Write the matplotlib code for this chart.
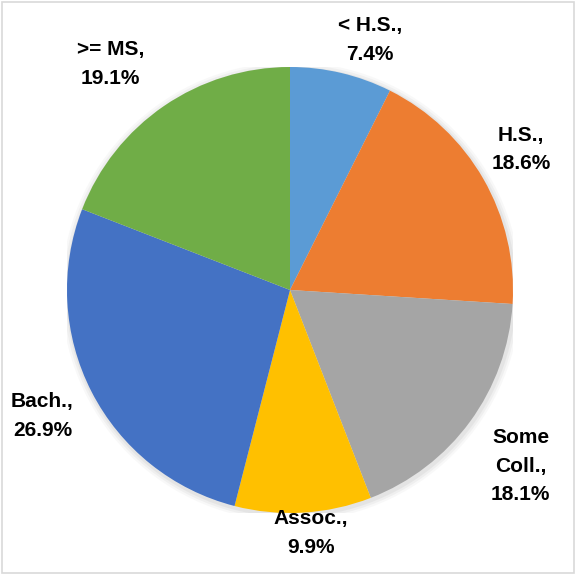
import matplotlib.pyplot as plt
from matplotlib.patches import Rectangle, Circle

# data
categories = ['< H.S.', 'H.S.', 'Some\nColl.', 'Assoc.', 'Bach.', '>= MS']
shares = [7.4, 18.6, 18.1, 9.9, 26.9, 19.1]
colors = ['#5B9BD5', '#ED7D31', '#A5A5A5', '#FFC000', '#4472C4', '#70AD47']

# label placement (axes data coords, pie radius = 1)
label_pos = [(0.36, 1.12), (1.035, 0.63), (1.035, -0.79), (0.095, -1.09), (-1.11, -0.565), (-0.805, 1.015)]

plt.rcParams['font.family'] = ['Liberation Sans', 'DejaVu Sans']

fig = plt.figure(figsize=(5.76, 5.75), dpi=100)
ax = fig.add_axes([67/576, 62/575, 446/576, 446/575])

# faint shadow under the pie
for r, a in [(1.03, 0.05), (1.02, 0.07), (1.01, 0.09)]:
    ax.add_patch(Circle((0.005, -0.008), r, color='#808080', alpha=a, zorder=0, lw=0))

wedges, _ = ax.pie(shares, colors=colors, startangle=90, counterclock=False,
                   radius=1.0, wedgeprops={'linewidth': 0, 'zorder': 2})
for w in wedges:
    w.set_zorder(2)

for cat, val, (x, y) in zip(categories, shares, label_pos):
    ax.text(x, y, f'{cat},\n{val:.1f}%', ha='center', va='center',
            fontsize=15, fontweight='bold', color='black', linespacing=1.65)

ax.set_xlim(-1, 1)
ax.set_ylim(-1, 1)
ax.set_aspect('equal')
ax.axis('off')

fig.patches.append(Rectangle((0.003, 0.003), 0.994, 0.994, transform=fig.transFigure,
                             fill=False, edgecolor='#D9D9D9', linewidth=1.2))

fig.savefig('out.png', dpi=100)
